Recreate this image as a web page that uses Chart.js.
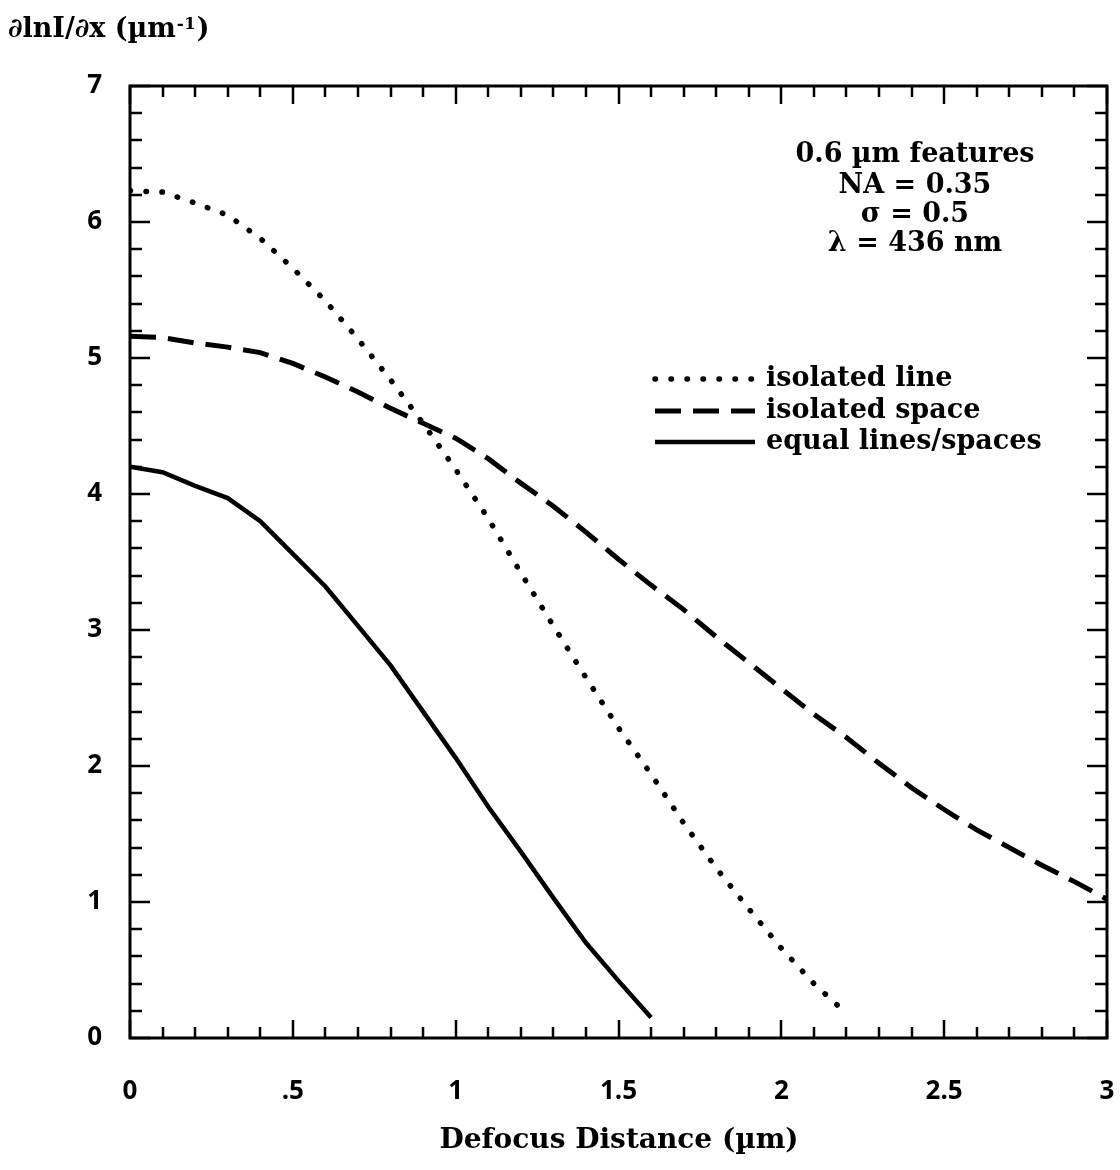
<!DOCTYPE html>
<html>
<head>
<meta charset="utf-8">
<script src="https://cdn.jsdelivr.net/npm/chart.js@4/dist/chart.umd.min.js"></script>
<style>
  html, body { margin: 0; padding: 0; background: #fff; }
  canvas { display: block; }
</style>
</head>
<body>
<canvas id="c" width="1120" height="1170"></canvas>
<script>
// Defocus distance (µm) sampled every 0.1 µm
const defocusLine  = [0,0.1,0.2,0.3,0.4,0.5,0.6,0.7,0.8,0.9,1.0,1.1,1.2,1.3,1.4,1.5,1.6,1.7,1.8,1.9,2.0,2.1,2.2];
const defocusSpace = [0,0.1,0.2,0.3,0.4,0.5,0.6,0.7,0.8,0.9,1.0,1.1,1.2,1.3,1.4,1.5,1.6,1.7,1.8,1.9,2.0,2.1,2.2,2.3,2.4,2.5,2.6,2.7,2.8,2.9,3.0];
const defocusEqual = [0,0.1,0.2,0.3,0.4,0.5,0.6,0.7,0.8,0.9,1.0,1.1,1.2,1.3,1.4,1.5,1.6];

// Image log-slope d(lnI)/dx (µm^-1)
const isolatedLine  = [6.23,6.22,6.14,6.05,5.88,5.66,5.42,5.14,4.84,4.52,4.18,3.82,3.42,3.03,2.65,2.28,1.94,1.58,1.25,0.95,0.66,0.40,0.18];
const isolatedSpace = [5.16,5.15,5.11,5.08,5.04,4.96,4.86,4.75,4.63,4.52,4.41,4.26,4.08,3.91,3.72,3.52,3.33,3.15,2.95,2.76,2.57,2.38,2.21,2.02,1.84,1.68,1.53,1.40,1.27,1.15,1.02];
const equalLines    = [4.20,4.16,4.06,3.97,3.80,3.56,3.32,3.03,2.74,2.40,2.06,1.70,1.37,1.03,0.70,0.42,0.15];

const seriesNames = ['isolated line', 'isolated space', 'equal lines/spaces'];
const xTickValues = [0, 0.5, 1, 1.5, 2, 2.5, 3];
const xTickLabels = ['0', '.5', '1', '1.5', '2', '2.5', '3'];
const yTickValues = [0, 1, 2, 3, 4, 5, 6, 7];
const conditions = ['0.6 \u00b5m features', 'NA = 0.35', '\u03c3 = 0.5', '\u03bb = 436 nm'];

const SERIF = '"DejaVu Serif", "Liberation Serif", serif';
const SANS = '"Open Sans", "Noto Sans", sans-serif';

function pts(xs, ys) { return xs.map((x, i) => ({ x: x, y: ys[i] })); }

const styles = [
  { borderWidth: 5.5, borderDash: [0.5, 15.5], borderCapStyle: 'round' },
  { borderWidth: 5, borderDash: [26, 12], borderCapStyle: 'butt' },
  { borderWidth: 4.5, borderDash: [], borderCapStyle: 'butt' }
];

// Frame, inward ticks, legend, annotation and axis titles
const decorations = {
  id: 'decorations',
  afterDraw(chart) {
    const ctx = chart.ctx;
    const a = chart.chartArea;
    const xs = chart.scales.x, ys = chart.scales.y;
    ctx.save();
    ctx.strokeStyle = '#000';
    ctx.fillStyle = '#000';
    ctx.lineCap = 'butt';

    // plot frame
    ctx.lineWidth = 3;
    ctx.strokeRect(a.left, a.top, a.right - a.left, a.bottom - a.top);

    // x ticks every 0.1, longer each 0.5
    ctx.lineWidth = 2.5;
    for (let i = 0; i <= 30; i++) {
      const px = Math.round(xs.getPixelForValue(i / 10));
      const len = (i % 5 === 0) ? 18 : 11;
      ctx.beginPath();
      ctx.moveTo(px, a.bottom); ctx.lineTo(px, a.bottom - len);
      ctx.moveTo(px, a.top); ctx.lineTo(px, a.top + len);
      ctx.stroke();
    }
    // y ticks every 0.2, longer at integers
    for (let j = 0; j <= 35; j++) {
      const py = Math.round(ys.getPixelForValue(j / 5));
      const len = (j % 5 === 0) ? 20 : 12;
      ctx.beginPath();
      ctx.moveTo(a.left, py); ctx.lineTo(a.left + len, py);
      ctx.moveTo(a.right, py); ctx.lineTo(a.right - len, py);
      ctx.stroke();
    }

    // legend
    const legY = [379, 411, 442];
    ctx.font = 'bold 27px ' + SERIF;
    ctx.textBaseline = 'middle';
    ctx.textAlign = 'left';
    chart.data.datasets.forEach((ds, k) => {
      ctx.save();
      ctx.lineWidth = ds.borderWidth;
      ctx.setLineDash(ds.borderDash);
      ctx.lineCap = ds.borderCapStyle;
      ctx.beginPath();
      ctx.moveTo(655, legY[k]); ctx.lineTo(755, legY[k]);
      ctx.stroke();
      ctx.restore();
      ctx.fillText(ds.label, 766, legY[k]);
    });

    // conditions block
    ctx.textAlign = 'center';
    const condY = [155, 186, 215, 244];
    conditions.forEach((t, k) => ctx.fillText(t, 915, condY[k]));

    // x axis title
    ctx.font = 'bold 28px ' + SERIF;
    ctx.fillText('Defocus Distance (\u00b5m)', 619, 1141);

    // y axis title with superscript
    ctx.textAlign = 'left';
    ctx.font = 'bold 27px ' + SERIF;
    let x0 = 8;
    const base = 30;
    const t1 = '\u2202lnI/\u2202x (\u00b5m';
    ctx.fillText(t1, x0, base);
    x0 += ctx.measureText(t1).width;
    ctx.font = 'bold 17px ' + SERIF;
    ctx.fillText('-1', x0 + 1, base - 5);
    x0 += ctx.measureText('-1').width + 2;
    ctx.font = 'bold 27px ' + SERIF;
    ctx.fillText(')', x0, base);

    ctx.restore();
  }
};

new Chart(document.getElementById('c'), {
  type: 'line',
  data: {
    datasets: [
      Object.assign({ label: seriesNames[0], data: pts(defocusLine, isolatedLine) }, styles[0]),
      Object.assign({ label: seriesNames[1], data: pts(defocusSpace, isolatedSpace) }, styles[1]),
      Object.assign({ label: seriesNames[2], data: pts(defocusEqual, equalLines) }, styles[2])
    ].map(d => Object.assign(d, { borderColor: '#000', pointRadius: 0, tension: 0, fill: false }))
  },
  options: {
    responsive: false,
    animation: false,
    devicePixelRatio: 1,
    layout: { padding: { left: 0, top: 86, right: 13, bottom: 0 } },
    plugins: { legend: { display: false }, tooltip: { enabled: false } },
    scales: {
      x: {
        type: 'linear', min: 0, max: 3,
        afterBuildTicks: s => { s.ticks = xTickValues.map(v => ({ value: v })); },
        afterFit: s => { s.height = 132; },
        grid: { display: true, drawOnChartArea: false, drawTicks: true, tickLength: 36, tickColor: 'rgba(0,0,0,0)' },
        border: { display: false },
        ticks: {
          autoSkip: false, maxRotation: 0, padding: 2,
          color: '#000',
          font: { family: SANS, weight: 'bold', size: 26 },
          callback: v => xTickLabels[xTickValues.indexOf(v)]
        }
      },
      y: {
        type: 'linear', min: 0, max: 7,
        afterBuildTicks: s => { s.ticks = yTickValues.map(v => ({ value: v })); },
        afterFit: s => { s.width = 130; },
        grid: { display: false, drawTicks: false },
        border: { display: false },
        ticks: {
          padding: 28, color: '#000',
          font: { family: SANS, weight: 'bold', size: 26 },
          callback: v => String(v)
        }
      }
    }
  },
  plugins: [decorations]
});
</script>
</body>
</html>
